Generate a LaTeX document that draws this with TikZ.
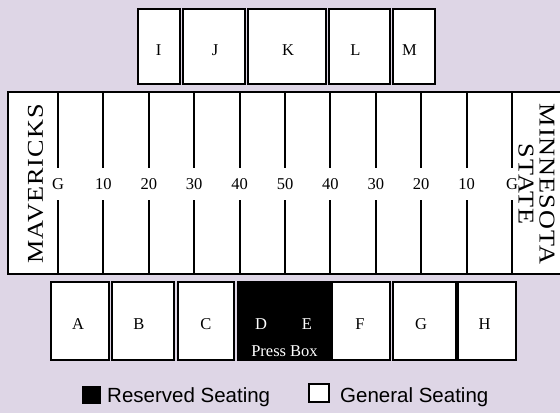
\documentclass[tikz,border=0pt]{standalone}
\usepackage{fontspec}
\setmainfont{Liberation Serif}
\newfontfamily\legendfont{Liberation Sans}
\newfontfamily\teamfont[LetterSpace=4]{Liberation Serif}
\definecolor{bgcol}{RGB}{222,214,230}
\begin{document}
\begin{tikzpicture}[x=1pt,y=-1pt,
  seat/.style={draw=black,line width=2pt,fill=white},
  reserved/.style={fill=black},
  lbl/.style={font=\fontsize{16.5}{16.5}\selectfont,anchor=base,inner sep=0pt},
  yard/.style={font=\fontsize{16.5}{16.5}\selectfont,anchor=base,inner sep=0pt},
  yardline/.style={line width=2pt},
  team/.style={font=\fontsize{22.6}{22.6}\teamfont,inner sep=0pt,yscale=1.16},
  legendtxt/.style={font=\fontsize{20.5}{20.5}\legendfont,anchor=base west,inner sep=0pt}]
\useasboundingbox (0,0) rectangle (560,413);
\clip (0,0) rectangle (560,413);
\fill[bgcol] (0,0) rectangle (560,413);
% top stands
\draw[seat] (138,9) rectangle (180,84);
\draw[seat] (183,9) rectangle (245,84);
\draw[seat] (248,9) rectangle (326,84);
\draw[seat] (329,9) rectangle (390,84);
\draw[seat] (393,9) rectangle (435,84);
\node[lbl] (I) at (158.5,55) {I};
\node[lbl] (J) at (215,55) {J};
\node[lbl] (K) at (288,55) {K};
\node[lbl] (L) at (355.5,55) {L};
\node[lbl] (M) at (409.5,55) {M};
% field
\draw[line width=2pt,fill=white] (8,92) rectangle (570,274);
\foreach \i/\t in {0/G,1/10,2/20,3/30,4/40,5/50,6/40,7/30,8/20,9/10,10/G}{
  \pgfmathsetmacro{\xx}{58+45.4*\i}
  \draw[yardline] (\xx,92) -- (\xx,168);
  \draw[yardline] (\xx,200) -- (\xx,274);
  \node[yard] (y\i) at (\xx,189) {\t};
}
\node[team,rotate=90] (mav) at (35.5,184) {MAVERICKS};
\node[team,rotate=-90] (minn) at (547,184) {MINNESOTA};
\node[team,rotate=-90] (state) at (526,184) {STATE};
% bottom stands
\draw[seat] (51,282) rectangle (109,360);
\draw[seat] (112,282) rectangle (174,360);
\draw[seat] (178,282) rectangle (234,360);
\fill[reserved] (237,281) rectangle (331,361);
\draw[seat] (332,282) rectangle (390,360);
\draw[seat] (393,282) rectangle (456,360);
\draw[seat] (458,282) rectangle (516,360);
\node[lbl] (A) at (78,329) {A};
\node[lbl] (B) at (139,329) {B};
\node[lbl] (C) at (206,329) {C};
\node[lbl,text=white] (D) at (261,329) {D};
\node[lbl,text=white] (E) at (307,329) {E};
\node[lbl,text=white] (press) at (284.5,356) {Press Box};
\node[lbl] (F) at (360,329) {F};
\node[lbl] (G) at (421,329) {G};
\node[lbl] (H) at (484.5,329) {H};
% legend
\fill[black] (82,386) rectangle (101,404);
\node[legendtxt] (res) at (107,402) {Reserved Seating};
\draw[line width=1.5pt,fill=white] (309,384) rectangle (329,402);
\node[legendtxt] (gen) at (340,402) {General Seating};
\end{tikzpicture}
\end{document}
